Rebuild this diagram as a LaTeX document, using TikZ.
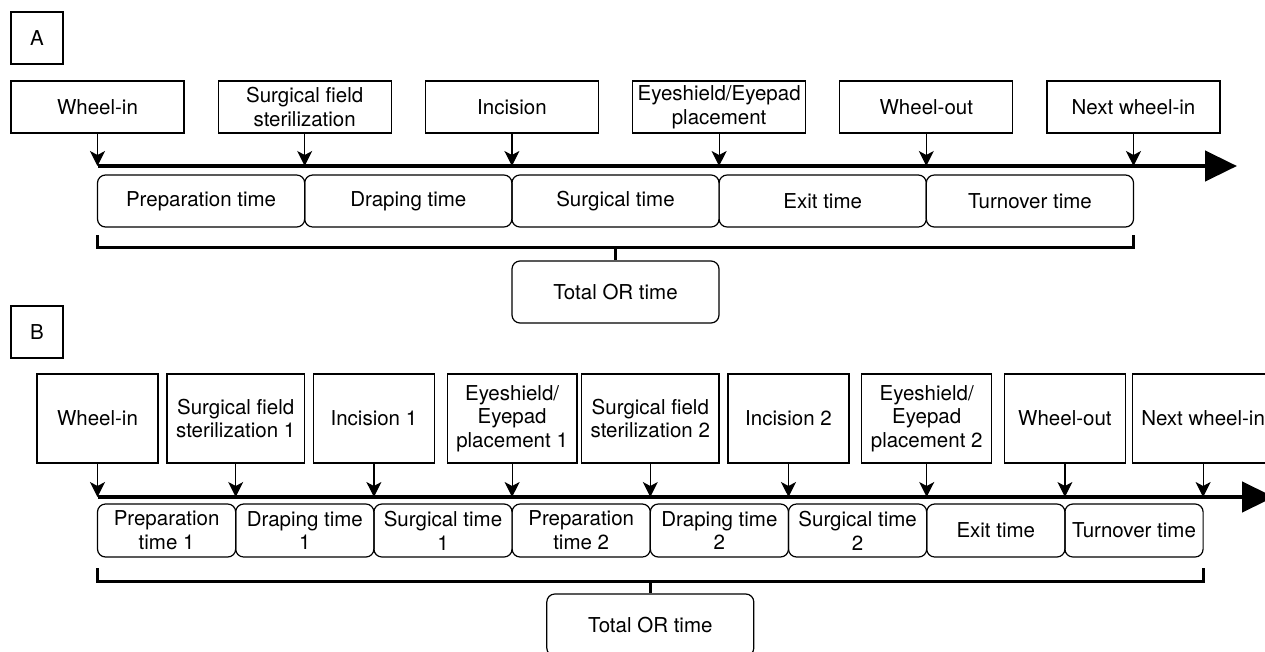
\documentclass[tikz,border=0pt]{standalone}
\usepackage{fontspec}
\setmainfont{TeX Gyre Heros}
\usepackage{tikz}
\usetikzlibrary{arrows.meta}

\begin{document}
\begin{tikzpicture}[
        x=1pt, y=-1pt,
        every node/.style={font=\fontsize{20.5}{23.7}\selectfont},
        panel/.style={draw, line width=1.2pt, minimum width=52pt, minimum height=52pt, inner sep=0pt},
        event/.style={draw, line width=1.2pt, align=center, inner sep=2pt, minimum width=173pt, minimum height=52pt},
        eventB/.style={draw, line width=1.2pt, align=center, inner xsep=9pt, inner ysep=2pt, minimum width=121pt, minimum height=89pt},
        phase/.style={draw, line width=1.2pt, rounded corners=8pt, align=center, inner sep=2pt, minimum width=207.2pt, minimum height=52pt},
        phaseB/.style={phase, minimum width=138.2pt, minimum height=53pt},
        total/.style={phase, minimum width=207pt, minimum height=62pt},
        pointer/.style={-{Stealth[length=15pt, width=15pt, inset=4pt]}, line width=1.2pt},
        timeline/.style={-{Triangle[length=32pt, width=30pt]}, line width=4.5pt},
        bracket/.style={line width=3pt}
    ]

        \useasboundingbox (0,0) rectangle (1265,651);

        \node[panel] (lblA) at (37,38) {A};

        \node[event] (evA1) at (97.5,107) {Wheel-in};
        \node[event] (evA2) at (304.7,107) {Surgical field\\sterilization};
        \node[event] (evA3) at (511.9,107) {Incision};
        \node[event] (evA4) at (719.1,107) {Eyeshield/Eyepad\\placement};
        \node[event] (evA5) at (926.3,107) {Wheel-out};
        \node[event] (evA6) at (1133.5,107) {Next wheel-in};

        \coordinate (lineA) at (97.5,166);
        \coordinate (endA) at (1237,166);

        \node[phase] (phA1) at (201.1,201) {Preparation time};
        \node[phase] (phA2) at (408.3,201) {Draping time};
        \node[phase] (phA3) at (615.5,201) {Surgical time};
        \node[phase] (phA4) at (822.7,201) {Exit time};
        \node[phase] (phA5) at (1029.9,201) {Turnover time};

        \draw[timeline] (lineA) -- (endA);
        \draw[pointer] (evA1) -- (evA1 |- lineA);
        \draw[pointer] (evA2) -- (evA2 |- lineA);
        \draw[pointer] (evA3) -- (evA3 |- lineA);
        \draw[pointer] (evA4) -- (evA4 |- lineA);
        \draw[pointer] (evA5) -- (evA5 |- lineA);
        \draw[pointer] (evA6) -- (evA6 |- lineA);

        \coordinate (brA) at (615.5,247);
        \draw[bracket] (97.5,235) |- (brA) -| (1133.5,235);
        \node[total] (totA) at (615.5,292) {Total OR time};
        \draw[bracket] (brA) -- (totA);

        \node[panel] (lblB) at (37,332) {B};

        \node[eventB] (evB1) at (97.5,418.5) {Wheel-in};
        \node[eventB] (evB2) at (235.7,418.5) {Surgical field\\sterilization 1};
        \node[eventB] (evB3) at (373.9,418.5) {Incision 1};
        \node[eventB] (evB4) at (512.1,418.5) {Eyeshield/\\Eyepad\\placement 1};
        \node[eventB] (evB5) at (650.3,418.5) {Surgical field\\sterilization 2};
        \node[eventB] (evB6) at (788.5,418.5) {Incision 2};
        \node[eventB] (evB7) at (926.7,418.5) {Eyeshield/\\Eyepad\\placement 2};
        \node[eventB] (evB8) at (1064.9,418.5) {Wheel-out};
        \node[eventB] (evB9) at (1203.1,418.5) {Next wheel-in};

        \coordinate (lineB) at (97.5,497);
        \coordinate (endB) at (1274,497);

        \node[phaseB] (phB1) at (166.6,530.5) {Preparation\\time 1};
        \node[phaseB] (phB2) at (304.8,530.5) {Draping time\\1};
        \node[phaseB] (phB3) at (443.0,530.5) {Surgical time\\1};
        \node[phaseB] (phB4) at (581.2,530.5) {Preparation\\time 2};
        \node[phaseB] (phB5) at (719.4,530.5) {Draping time\\2};
        \node[phaseB] (phB6) at (857.6,530.5) {Surgical time\\2};
        \node[phaseB] (phB7) at (995.8,530.5) {Exit time};
        \node[phaseB] (phB8) at (1134.0,530.5) {Turnover time};

        \draw[timeline] (lineB) -- (endB);
        \draw[pointer] (evB1) -- (evB1 |- lineB);
        \draw[pointer] (evB2) -- (evB2 |- lineB);
        \draw[pointer] (evB3) -- (evB3 |- lineB);
        \draw[pointer] (evB4) -- (evB4 |- lineB);
        \draw[pointer] (evB5) -- (evB5 |- lineB);
        \draw[pointer] (evB6) -- (evB6 |- lineB);
        \draw[pointer] (evB7) -- (evB7 |- lineB);
        \draw[pointer] (evB8) -- (evB8 |- lineB);
        \draw[pointer] (evB9) -- (evB9 |- lineB);

        \coordinate (brB) at (650.3,581);
        \draw[bracket] (97.5,568) |- (brB) -| (1203.1,568);
        \node[total] (totB) at (650.3,625) {Total OR time};
        \draw[bracket] (brB) -- (totB);
    \end{tikzpicture}
\end{document}
